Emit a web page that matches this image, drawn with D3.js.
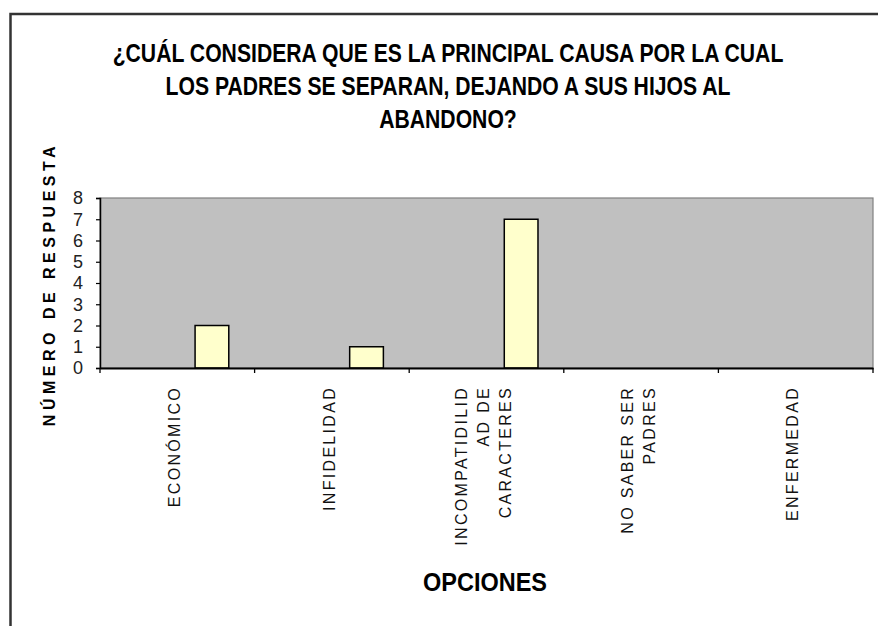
<!DOCTYPE html>
<html>
<head>
<meta charset="utf-8">
<script src="https://cdnjs.cloudflare.com/ajax/libs/d3/7.8.5/d3.min.js"></script>
<style>
  html, body { margin: 0; padding: 0; background: #fff; }
  svg { display: block; }
</style>
</head>
<body>
<svg id="chart" width="878" height="626"></svg>
<script>
// ---- data ----
const categories = ["ECONÓMICO", "INFIDELIDAD", "INCOMPATIDILIDAD DE CARACTERES", "NO SABER SER PADRES", "ENFERMEDAD"];
const labelLines = [["ECONÓMICO"], ["INFIDELIDAD"], ["INCOMPATIDILID", "AD DE", "CARACTERES"], ["NO SABER SER", "PADRES"], ["ENFERMEDAD"]];
const values = [2, 1, 7, 0, 0];
const yTicks = [0, 1, 2, 3, 4, 5, 6, 7, 8];
const titleLines = ["¿CUÁL CONSIDERA QUE ES LA PRINCIPAL CAUSA POR LA CUAL", "LOS PADRES SE SEPARAN, DEJANDO A SUS HIJOS AL", "ABANDONO?"];
const yTitle = "NÚMERO DE RESPUESTA";
const xTitle = "OPCIONES";

// ---- layout ----
const svg = d3.select("#chart");
const plot = { left: 100, right: 873, top: 198, bottom: 368 };
const sans = "'Liberation Sans', Arial, sans-serif";

// outer frame (only top and left edges visible)
svg.append("path")
  .attr("d", "M10.5,700 V14 H900")
  .attr("fill", "none").attr("stroke", "#333").attr("stroke-width", 2.5);

const x = d3.scaleBand().domain(categories).range([plot.left, plot.right]).paddingInner(0).paddingOuter(0);
const y = d3.scaleLinear().domain([0, 8]).range([plot.bottom, plot.top]);

// plot area
svg.append("rect")
  .attr("x", plot.left).attr("y", plot.top)
  .attr("width", plot.right - plot.left).attr("height", plot.bottom - plot.top)
  .attr("fill", "#c0c0c0").attr("stroke", "#808080").attr("stroke-width", 1.2);

// bars
const bw = x.bandwidth();
svg.append("g").selectAll("rect").data(categories).join("rect")
  .attr("x", (d) => x(d) + bw * 0.615)
  .attr("width", bw * 0.218)
  .attr("y", (d, i) => y(values[i]))
  .attr("height", (d, i) => y(0) - y(values[i]))
  .attr("fill", "#ffffcc").attr("stroke", "#000").attr("stroke-width", 1.5);

// y axis
const yAxis = svg.append("g").attr("transform", `translate(${plot.left},0)`)
  .call(d3.axisLeft(y).tickValues(yTicks).tickSize(4).tickPadding(13).tickFormat(d3.format("d")));
yAxis.select(".domain").attr("stroke", "#000").attr("stroke-width", 1.5);
yAxis.selectAll(".tick line").attr("stroke", "#000").attr("stroke-width", 1.2);
yAxis.selectAll(".tick text").attr("font-family", sans).attr("font-size", 18).attr("fill", "#222");

// x axis
const xAxis = svg.append("g").attr("transform", `translate(0,${plot.bottom})`)
  .call(d3.axisBottom(x).tickValues([]).tickSizeOuter(0));
xAxis.select(".domain").attr("stroke", "#000").attr("stroke-width", 1.8);
const bounds = categories.map((c) => x(c)).concat([plot.right]);
xAxis.selectAll(".bt").data(bounds).join("line").attr("class", "bt")
  .attr("x1", (d) => d).attr("x2", (d) => d).attr("y1", 0).attr("y2", 5)
  .attr("stroke", "#000").attr("stroke-width", 1.3);

// rotated category labels
const lab = svg.append("g").selectAll("g").data(categories).join("g")
  .attr("transform", (d) => `translate(${x(d) + bw / 2 - 3},386) rotate(-90)`);
lab.each(function (d, i) {
  const lines = labelLines[i];
  const g = d3.select(this);
  lines.forEach((ln, j) => {
    g.append("text")
      .attr("x", 0)
      .attr("y", (j - (lines.length - 1) / 2) * 22)
      .attr("dy", "0.36em")
      .attr("text-anchor", "end")
      .attr("font-family", sans).attr("font-size", 16)
      .attr("letter-spacing", 2.3)
      .attr("fill", "#111")
      .text(ln);
  });
});

// title (condensed bold: horizontally scaled)
const titleG = svg.append("g");
const titleInner = titleG.append("g");
titleInner.selectAll("text").data(titleLines).join("text")
  .attr("x", 0).attr("y", (d, i) => 62 + i * 33)
  .attr("text-anchor", "middle")
  .attr("font-family", sans).attr("font-weight", "bold").attr("font-size", 25)
  .attr("fill", "#000")
  .text((d) => d);
const w1 = titleInner.select("text").node().getComputedTextLength();
titleInner.attr("transform", `translate(448,0) scale(${671 / w1},1)`);

// y title
svg.append("text")
  .attr("transform", "translate(55,284) rotate(-90)")
  .attr("text-anchor", "middle")
  .attr("font-family", sans).attr("font-weight", "bold").attr("font-size", 16)
  .attr("letter-spacing", 4.5)
  .attr("fill", "#000")
  .text(yTitle);

// x title (condensed bold)
const xt = svg.append("g");
const xtText = xt.append("text")
  .attr("x", 0).attr("y", 591)
  .attr("text-anchor", "middle")
  .attr("font-family", sans).attr("font-weight", "bold").attr("font-size", 26)
  .attr("fill", "#000")
  .text(xTitle);
const wx = xtText.node().getComputedTextLength();
xt.attr("transform", `translate(485,0) scale(${124 / wx},1)`);
</script>
</body>
</html>
